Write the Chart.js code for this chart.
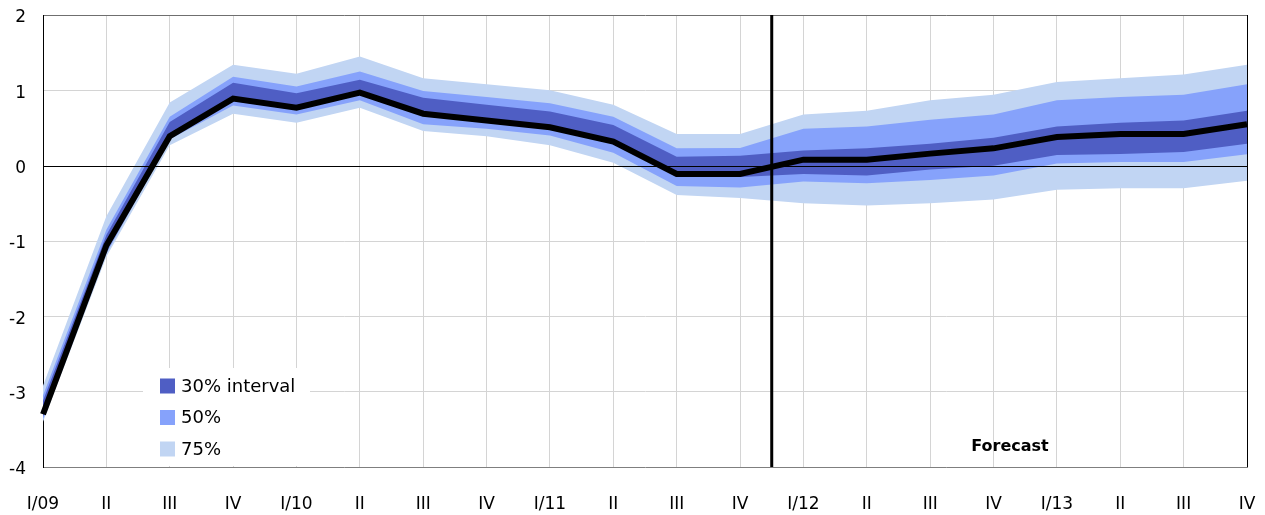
<!DOCTYPE html>
<html>
<head>
<meta charset="utf-8">
<script src="https://cdn.jsdelivr.net/npm/chart.js@4/dist/chart.umd.min.js"></script>
<style>
  html, body { margin: 0; padding: 0; background: #fff; }
  #c { display: block; }
</style>
</head>
<body>
<canvas id="c" width="1265" height="515"></canvas>
<script>
// ---- data ----
const labels = ['I/09','II','III','IV','I/10','II','III','IV','I/11','II','III','IV','I/12','II','III','IV','I/13','II','III','IV'];
const central = [-3.30, -1.06, 0.39, 0.89, 0.77, 0.97, 0.69, 0.60, 0.51, 0.32, -0.11, -0.11, 0.08, 0.08, 0.16, 0.23, 0.38, 0.42, 0.42, 0.55];
const upper30 = [-3.12, -0.92, 0.58, 1.10, 0.96, 1.14, 0.90, 0.81, 0.72, 0.54, 0.12, 0.13, 0.20, 0.23, 0.29, 0.37, 0.52, 0.57, 0.60, 0.73];
const lower30 = [-3.33, -1.10, 0.36, 0.86, 0.74, 0.94, 0.66, 0.57, 0.48, 0.29, -0.14, -0.15, -0.11, -0.13, -0.05, 0.00, 0.14, 0.155, 0.18, 0.29];
const upper50 = [-3.05, -0.85, 0.65, 1.18, 1.05, 1.25, 0.99, 0.91, 0.83, 0.65, 0.23, 0.235, 0.49, 0.52, 0.61, 0.68, 0.87, 0.91, 0.94, 1.08];
const lower50 = [-3.37, -1.17, 0.35, 0.80, 0.68, 0.87, 0.55, 0.49, 0.40, 0.17, -0.27, -0.29, -0.21, -0.235, -0.19, -0.13, 0.03, 0.05, 0.05, 0.15];
const upper75 = [-2.92, -0.67, 0.84, 1.34, 1.22, 1.45, 1.16, 1.08, 1.00, 0.81, 0.42, 0.42, 0.68, 0.73, 0.87, 0.94, 1.11, 1.16, 1.21, 1.34];
const lower75 = [-3.40, -1.21, 0.27, 0.69, 0.57, 0.77, 0.46, 0.39, 0.27, 0.04, -0.39, -0.43, -0.50, -0.53, -0.50, -0.45, -0.32, -0.30, -0.30, -0.20];
const yTicks = [2, 1, 0, -1, -2, -3, -4];
const legendItems = ['30% interval', '50%', '75%'];
const forecastLabel = 'Forecast';
const forecastStartIndex = 11.5;

// ---- styles ----
const C30 = '#4f5ec4';
const C50 = '#86a2fb';
const C75 = '#c1d5f3';
const GRID = '#d4d4d4';
const FONT = 'DejaVu Sans';

function band(data, color, fillPrev, order) {
  return {
    data: data,
    borderWidth: 0,
    borderColor: 'transparent',
    backgroundColor: color,
    pointRadius: 0,
    pointHoverRadius: 0,
    tension: 0,
    fill: fillPrev ? '-1' : false,
    order: order
  };
}

const overlay = {
  id: 'overlay',
  afterDatasetsDraw(chart) {
    const ctx = chart.ctx;
    const a = chart.chartArea;
    const y = chart.scales.y;
    ctx.save();
    const y0 = Math.round(y.getPixelForValue(0)) + 0.5;
    ctx.strokeStyle = '#000';
    ctx.lineWidth = 1;
    ctx.beginPath();
    ctx.moveTo(a.left, y0);
    ctx.lineTo(a.right, y0);
    ctx.stroke();
    ctx.restore();
  },
  afterDraw(chart) {
    const ctx = chart.ctx;
    const a = chart.chartArea;
    const x = chart.scales.x;
    ctx.save();
    const i0 = Math.floor(forecastStartIndex), i1 = Math.ceil(forecastStartIndex);
    const xf = (x.getPixelForValue(i0) + x.getPixelForValue(i1)) / 2;
    ctx.strokeStyle = '#000';
    ctx.lineWidth = 3;
    ctx.beginPath();
    ctx.moveTo(xf, a.top);
    ctx.lineTo(xf, a.bottom);
    ctx.stroke();

    ctx.fillStyle = '#fff';
    ctx.fillRect(143, 368, 167, a.bottom - 368 - 1);
    const cols = [C30, C50, C75];
    const centers = [386, 417.5, 449];
    ctx.font = '18px "' + FONT + '"';
    ctx.textBaseline = 'middle';
    ctx.textAlign = 'left';
    for (let i = 0; i < legendItems.length; i++) {
      ctx.fillStyle = cols[i];
      ctx.fillRect(160, centers[i] - 7.5, 15, 15);
      ctx.fillStyle = '#000';
      ctx.fillText(legendItems[i], 181, centers[i] + 1);
    }

    ctx.font = 'bold 16px "' + FONT + '"';
    ctx.textAlign = 'center';
    ctx.fillText(forecastLabel, 1010, 447);
    ctx.restore();
  }
};

new Chart(document.getElementById('c'), {
  type: 'line',
  data: {
    labels: labels,
    datasets: [
      band(upper75, C75, false, 6),
      band(lower75, C75, true, 5),
      band(upper50, C50, false, 4),
      band(lower50, C50, true, 3),
      band(upper30, C30, false, 2),
      band(lower30, C30, true, 1),
      {
        data: central,
        borderColor: '#000',
        borderWidth: 6,
        backgroundColor: '#000',
        pointRadius: 0,
        pointHoverRadius: 0,
        tension: 0,
        fill: false,
        order: 0,
        borderJoinStyle: 'miter'
      }
    ]
  },
  options: {
    responsive: false,
    devicePixelRatio: 1,
    animation: false,
    events: [],
    layout: { padding: { top: 15, right: 18, left: 0, bottom: 0 } },
    plugins: {
      legend: { display: false },
      tooltip: { enabled: false },
      filler: { propagate: false }
    },
    scales: {
      x: {
        type: 'category',
        offset: false,
        afterFit(s) { s.height = 48; s.paddingLeft = 0; s.paddingRight = 0; },
        grid: {
          drawTicks: false,
          lineWidth: 1,
          color(ctx) {
            if (ctx.index === 0) return 'transparent';
            if (ctx.index === labels.length - 1) return '#000';
            return GRID;
          }
        },
        border: { display: true, color: '#7f7f7f', width: 1 },
        ticks: {
          color: '#000',
          padding: 27,
          maxRotation: 0,
          autoSkip: false,
          font: { family: FONT, size: 17 }
        }
      },
      y: {
        min: -4,
        max: 2,
        afterFit(s) { s.width = 43; s.paddingTop = 0; s.paddingBottom = 0; },
        afterBuildTicks(s) { s.ticks = yTicks.map(v => ({ value: v })); },
        grid: {
          drawTicks: false,
          lineWidth: 1,
          color(ctx) {
            const v = ctx.tick ? ctx.tick.value : null;
            if (v === 2) return '#6f6f6f';
            if (v === 0 || v === -4) return 'transparent';
            return GRID;
          }
        },
        border: { display: true, color: '#000', width: 1 },
        ticks: {
          color: '#000',
          padding: 17,
          labelOffset: 3,
          font: { family: FONT, size: 17 },
          callback(v) { return String(v); }
        }
      }
    }
  },
  plugins: [overlay]
});
</script>
</body>
</html>
